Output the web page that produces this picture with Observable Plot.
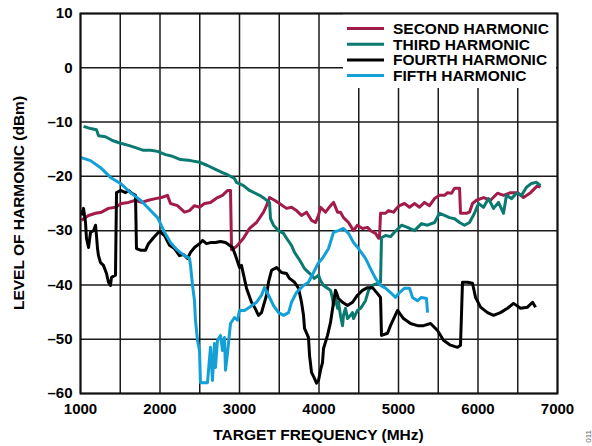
<!DOCTYPE html>
<html><head><meta charset="utf-8">
<script src="https://cdn.jsdelivr.net/npm/d3@7"></script>
<script src="https://cdn.jsdelivr.net/npm/@observablehq/plot@0.6"></script>
<style>
html,body{margin:0;padding:0;background:#fff;}
#chart{position:relative;width:592px;height:446px;}
</style></head><body><div id="chart"></div>
<script>
const seriesNames = ["SECOND HARMONIC", "THIRD HARMONIC", "FOURTH HARMONIC", "FIFTH HARMONIC"];
const seriesColors = ["#A21B4B", "#0A7A70", "#000000", "#12A0D6"];
const xTicks = [1000, 2000, 3000, 4000, 5000, 6000, 7000];
const xGrid = [1000, 1500, 2000, 2500, 3000, 3500, 4000, 4500, 5000, 5500, 6000, 6500, 7000];
const yTicks = [-60, -50, -40, -30, -20, -10, 0, 10];
const xTitle = "TARGET FREQUENCY (MHz)";
const yTitle = "LEVEL OF HARMONIC (dBm)";
const figId = "011";

// [frequency MHz, level dBm]
const secondHarmonic = [
  [1013,-28.1],[1101,-27.2],[1189,-26.8],[1264,-26.6],[1352,-25.9],[1440,-25.7],[1516,-25.0],[1604,-24.8],
  [1692,-24.4],[1767,-24.8],[1855,-24.4],[1943,-24.1],[2019,-23.9],[2094,-23.5],[2132,-25.0],[2220,-25.4],
  [2308,-26.6],[2371,-26.3],[2434,-25.4],[2497,-25.7],[2560,-25.0],[2635,-24.8],[2723,-23.9],[2786,-23.5],
  [2849,-22.6],[2887,-22.6],[2900,-33.5],[2962,-32.9],[3050,-31.4],[3126,-29.6],[3214,-28.5],[3302,-26.6],
  [3340,-25.4],[3378,-23.9],[3440,-24.4],[3503,-25.0],[3591,-25.9],[3654,-25.7],[3717,-26.3],[3780,-27.2],
  [3843,-26.6],[3906,-28.1],[3956,-28.5],[3994,-27.2],[4019,-25.7],[4082,-26.6],[4145,-25.4],[4183,-24.8],
  [4233,-26.6],[4270,-26.6],[4308,-27.6],[4371,-28.5],[4434,-30.0],[4484,-29.0],[4547,-29.6],[4610,-29.4],
  [4648,-30.0],[4711,-30.5],[4749,-31.4],[4761,-31.4],[4774,-26.8],[4837,-26.8],[4874,-26.3],[4937,-26.6],
  [4988,-25.7],[5013,-25.4],[5076,-25.0],[5139,-25.7],[5202,-25.0],[5264,-25.7],[5327,-24.8],[5390,-25.4],
  [5453,-24.1],[5516,-23.5],[5579,-23.5],[5617,-23.0],[5667,-23.1],[5705,-22.2],[5768,-22.2],[5780,-26.8],
  [5856,-26.8],[5893,-26.6],[5931,-25.0],[5981,-24.4],[6070,-23.9],[6157,-24.4],[6245,-23.1],[6321,-23.5],
  [6409,-23.0],[6497,-23.0],[6572,-23.9],[6661,-23.0],[6749,-21.7],[6786,-22.0]
];
const thirdHarmonic = [
  [1038,-10.8],[1126,-11.2],[1201,-11.4],[1226,-12.5],[1314,-12.7],[1402,-13.4],[1503,-13.9],[1604,-14.3],
  [1692,-14.7],[1792,-15.2],[1881,-15.2],[1969,-15.4],[2069,-16.0],[2157,-16.3],[2258,-16.9],[2384,-17.1],
  [2497,-17.4],[2597,-18.0],[2698,-18.7],[2786,-19.3],[2849,-19.7],[2937,-20.4],[2962,-21.1],[3050,-21.7],
  [3126,-22.6],[3252,-23.5],[3314,-24.1],[3378,-24.8],[3390,-27.8],[3428,-29.0],[3491,-30.0],[3554,-30.5],
  [3591,-31.4],[3654,-32.7],[3692,-34.0],[3742,-35.1],[3780,-36.0],[3818,-37.0],[3868,-37.7],[3906,-38.2],
  [3943,-38.8],[3994,-38.2],[4019,-39.2],[4057,-40.1],[4107,-40.6],[4145,-41.0],[4170,-42.5],[4183,-43.8],
  [4208,-42.1],[4233,-44.3],[4245,-43.2],[4270,-45.6],[4296,-47.5],[4308,-45.6],[4333,-44.3],[4359,-46.2],
  [4396,-45.6],[4421,-45.1],[4434,-46.2],[4484,-44.7],[4522,-44.3],[4547,-43.8],[4585,-42.9],[4623,-41.0],
  [4673,-40.1],[4736,-39.7],[4774,-39.5],[4786,-31.3],[4837,-30.9],[4899,-31.1],[4950,-30.3],[5038,-29.0],
  [5113,-29.4],[5201,-30.0],[5289,-28.7],[5365,-29.0],[5453,-28.5],[5516,-26.8],[5579,-27.2],[5642,-27.6],
  [5705,-27.8],[5768,-28.5],[5830,-29.0],[5893,-28.5],[5956,-26.8],[6006,-25.0],[6070,-25.7],[6132,-24.1],
  [6195,-25.9],[6258,-24.8],[6321,-26.8],[6358,-23.5],[6421,-24.1],[6484,-23.1],[6547,-23.5],[6610,-22.0],
  [6673,-21.3],[6736,-21.1],[6786,-21.7]
];
const fourthHarmonic = [
  [1013,-27.2],[1038,-25.9],[1063,-28.5],[1075,-31.4],[1101,-33.1],[1126,-30.3],[1164,-30.0],[1189,-29.0],
  [1201,-30.9],[1214,-33.3],[1226,-34.6],[1252,-35.9],[1289,-36.4],[1327,-37.9],[1352,-39.5],[1377,-40.1],
  [1390,-38.6],[1440,-38.2],[1453,-23.0],[1503,-22.6],[1566,-23.0],[1604,-22.6],[1642,-23.1],[1692,-23.5],
  [1704,-33.3],[1755,-33.6],[1818,-33.6],[1855,-32.4],[1918,-31.3],[1981,-30.3],[2006,-30.3],[2057,-30.9],
  [2120,-32.7],[2182,-33.3],[2245,-34.6],[2296,-34.4],[2346,-35.1],[2384,-34.0],[2434,-33.1],[2497,-32.4],
  [2535,-31.8],[2585,-32.4],[2635,-32.2],[2698,-32.2],[2761,-32.0],[2824,-32.2],[2874,-32.7],[2912,-33.1],
  [2950,-34.6],[3000,-36.8],[3025,-36.4],[3088,-40.6],[3151,-43.2],[3189,-44.1],[3239,-45.6],[3277,-45.1],
  [3302,-43.8],[3340,-41.9],[3365,-39.5],[3403,-37.3],[3466,-36.8],[3528,-37.7],[3591,-37.9],[3629,-38.8],
  [3692,-39.5],[3742,-40.6],[3780,-43.2],[3805,-45.6],[3818,-48.0],[3868,-49.7],[3881,-53.0],[3906,-56.1],
  [3943,-57.2],[3969,-58.1],[3994,-57.6],[4019,-55.7],[4044,-54.3],[4057,-51.7],[4107,-49.3],[4145,-46.9],
  [4183,-43.2],[4208,-41.0],[4245,-42.5],[4296,-43.2],[4359,-43.8],[4421,-43.2],[4484,-41.9],[4547,-41.0],
  [4610,-40.5],[4673,-40.5],[4736,-41.6],[4774,-42.3],[4786,-49.3],[4862,-48.9],[4899,-47.5],[4988,-44.7],
  [5063,-46.2],[5151,-47.1],[5239,-47.5],[5315,-47.5],[5403,-47.1],[5491,-48.4],[5566,-50.2],[5654,-51.1],
  [5742,-51.5],[5780,-51.1],[5805,-39.5],[5868,-39.5],[5931,-39.7],[5969,-42.3],[6032,-44.1],[6120,-45.1],
  [6195,-45.6],[6283,-45.1],[6371,-44.3],[6447,-43.4],[6535,-44.3],[6623,-44.1],[6686,-43.2],[6724,-44.1]
];
const fifthHarmonic = [
  [1000,-16.5],[1126,-17.1],[1252,-18.4],[1377,-20.2],[1503,-21.3],[1629,-23.0],[1755,-24.4],[1881,-26.3],
  [1969,-27.6],[2006,-28.7],[2057,-30.3],[2132,-32.2],[2220,-33.6],[2308,-34.6],[2371,-35.1],[2384,-36.4],
  [2409,-40.1],[2434,-42.9],[2446,-46.5],[2472,-50.2],[2497,-52.1],[2509,-58.0],[2597,-58.0],[2635,-51.5],
  [2660,-57.6],[2685,-50.8],[2698,-55.2],[2723,-50.2],[2761,-49.3],[2786,-52.1],[2811,-49.7],[2824,-55.7],
  [2849,-52.6],[2874,-48.9],[2887,-47.1],[2937,-46.0],[2975,-46.5],[3000,-44.7],[3063,-44.7],[3126,-44.1],
  [3214,-43.2],[3277,-41.9],[3314,-40.5],[3365,-41.9],[3428,-43.8],[3491,-45.1],[3554,-45.6],[3617,-45.1],
  [3654,-43.2],[3717,-41.4],[3805,-40.1],[3868,-39.5],[3931,-37.7],[3994,-35.9],[4044,-35.1],[4120,-33.3],
  [4183,-30.3],[4245,-30.0],[4308,-29.6],[4371,-30.5],[4434,-32.2],[4497,-33.3],[4585,-35.1],[4648,-37.0],
  [4711,-38.8],[4774,-40.1],[4837,-40.6],[4899,-41.4],[4962,-42.3],[5013,-41.4],[5076,-40.6],[5139,-40.6],
  [5176,-42.3],[5239,-42.9],[5289,-42.3],[5352,-42.5],[5365,-45.1]
];

const allSeries = [secondHarmonic, thirdHarmonic, fourthHarmonic, fifthHarmonic];
const rows = [];
allSeries.forEach((arr, i) => arr.forEach(([f, l]) => rows.push({series: seriesNames[i], f, l})));

const FONT = "'Liberation Sans', Arial, Helvetica, sans-serif";

function legendMark(index, scales, values, dim) {
  const g = d3.create("svg:g");
  const boxW = 214;
  const x0 = dim.width - dim.marginRight - boxW;
  const y0 = dim.marginTop + 1;
  g.append("rect").attr("x", x0).attr("y", y0).attr("width", boxW - 1).attr("height", 74).attr("fill", "white");
  seriesNames.forEach((n, i) => {
    const y = y0 + 14.5 + i * 15.7;
    g.append("line").attr("x1", x0 + 4).attr("x2", x0 + 41).attr("y1", y).attr("y2", y)
      .attr("stroke", seriesColors[i]).attr("stroke-width", 3);
    g.append("text").attr("x", x0 + 50).attr("y", y).attr("dy", "0.36em").attr("text-anchor", "start")
      .attr("font-size", 15.5).attr("font-weight", "bold").attr("fill", "#000").text(n);
  });
  return g.node();
}

const chart = Plot.plot({
  width: 592,
  height: 446,
  marginLeft: 80,
  marginRight: 35,
  marginTop: 13,
  marginBottom: 53,
  x: {domain: [1000, 7000]},
  y: {domain: [-60, 10]},
  color: {domain: seriesNames, range: seriesColors},
  style: {fontFamily: FONT, fontSize: "15px", fontWeight: "bold", color: "#000", background: "white", overflow: "visible"},
  marks: [
    Plot.ruleX(xGrid, {stroke: "#1a1a1a", strokeWidth: 1.5}),
    Plot.ruleY(yTicks, {stroke: "#1a1a1a", strokeWidth: 1.5}),
    legendMark,
    Plot.line(rows, {x: "f", y: "l", z: "series", stroke: "series", strokeWidth: 3, strokeLinejoin: "round", strokeLinecap: "butt"}),
    Plot.frame({stroke: "#111", strokeWidth: 2}),
    Plot.axisX(xTicks, {tickSize: 0, tickPadding: 10, label: null, tickFormat: d => String(d)}),
    Plot.axisY(yTicks, {tickSize: 0, tickPadding: 8, label: null, tickFormat: d => d < 0 ? "\u2013" + Math.abs(d) : String(d)})
  ]
});

document.getElementById("chart").appendChild(chart);
const svg = d3.select(chart);
svg.append("text").attr("x", 318.5).attr("y", 435).attr("dy", "0.35em").attr("text-anchor", "middle")
  .attr("font-size", 15.5).attr("font-weight", "bold").attr("fill", "#000").text(xTitle);
svg.append("text").attr("transform", "translate(19,203) rotate(-90)").attr("dy", "0.35em").attr("text-anchor", "middle")
  .attr("font-size", 15.5).attr("font-weight", "bold").attr("fill", "#000").text(yTitle);
svg.append("text").attr("transform", "translate(588,430) rotate(-90)").attr("dy", "0.35em").attr("text-anchor", "end")
  .attr("font-size", 8).attr("font-weight", "normal").attr("fill", "#666").text(figId);
</script></body></html>
